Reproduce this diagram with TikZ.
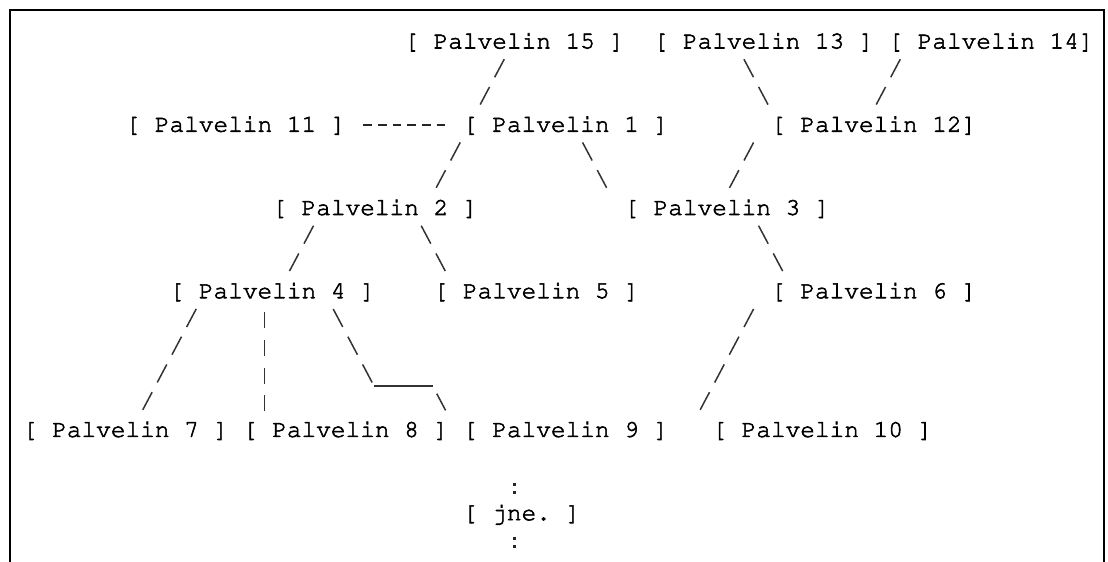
\documentclass[tikz,border=0pt]{standalone}
\usepackage[T1]{fontenc}

% Courier on a fixed character grid, slightly heavier strokes
\newcommand\heavy{\special{pdf:literal direct 2 Tr 0.55 w}}
\newcommand\plain{\special{pdf:literal direct 0 Tr}}

\tikzset{
  srv/.style={anchor=base west, inner sep=0pt, text height=14pt, text depth=0pt,
    font=\fontfamily{pcr}\fontsize{24.45}{27.75}\selectfont\frenchspacing, text=black,
    execute at begin node=\heavy, execute at end node=\plain},
  link/.style={line width=1.5pt, black!80, dash pattern=on 20.4pt off 11pt,
    shorten <=11.9pt, shorten >=14.7pt},
  vlink/.style={line width=1.5pt, black!80, dash pattern=on 16pt off 11.75pt,
    shorten <=13.75pt, shorten >=11.75pt},
  hlink/.style={line width=1.6pt, black!85, dash pattern=on 8.5pt off 6.17pt,
    shorten <=17.6pt, shorten >=17.6pt},
  colon/.style={line width=3pt, black!85, dash pattern=on 3pt off 5.5pt},
  outline/.style={line width=2pt, black}
}

\begin{document}
\begin{tikzpicture}[x=14.67pt, y=-27.75pt]
\useasboundingbox (-2.045,-1.748) rectangle (73.49,18.505);
\draw[outline] (-1.363,18.505) |- (73.21,-1.387) -- (73.21,18.505);

% servers on the character grid (column, row)
\node[srv] (p15) at (25.5,0) {[ Palvelin 15 ]};
\node[srv] (p13) at (42.5,0) {[ Palvelin 13 ]};
\node[srv] (p14) at (58.5,0) {[ Palvelin 14]};
\node[srv] (p11) at (6.5,3) {[ Palvelin 11 ]};
\node[srv] (p1) at (29.5,3) {[ Palvelin 1 ]};
\node[srv] (p12) at (50.5,3) {[ Palvelin 12]};
\node[srv] (p2) at (16.5,6) {[ Palvelin 2 ]};
\node[srv] (p3) at (40.5,6) {[ Palvelin 3 ]};
\node[srv] (p4) at (9.5,9) {[ Palvelin 4 ]};
\node[srv] (p5) at (27.5,9) {[ Palvelin 5 ]};
\node[srv] (p6) at (50.5,9) {[ Palvelin 6 ]};
\node[srv] (p7) at (-0.5,14) {[ Palvelin 7 ]};
\node[srv] (p8) at (14.5,14) {[ Palvelin 8 ]};
\node[srv] (p9) at (29.5,14) {[ Palvelin 9 ]};
\node[srv] (p10) at (46.5,14) {[ Palvelin 10 ]};
\node[srv] (jne) at (29.5,17) {[ jne. ]};

% slashes, one column per row
\draw[link] (p15.south -| 32.71,0) -- (p1.north -| 30.22,0);
\draw[link] (p13.south -| 48.29,0) -- (p12.north -| 50.78,0);
\draw[link] (p14.south -| 59.71,0) -- (p12.north -| 57.22,0);
\draw[link] (p1.south -| 29.71,0) -- (p2.north -| 27.22,0);
\draw[link] (p1.south -| 37.29,0) -- (p3.north -| 39.78,0);
\draw[link] (p12.south -| 49.71,0) -- (p3.north -| 47.22,0);
\draw[link] (p2.south -| 19.71,0) -- (p4.north -| 17.22,0);
\draw[link] (p2.south -| 26.29,0) -- (p5.north -| 28.78,0);
\draw[link] (p3.south -| 49.29,0) -- (p6.north -| 51.78,0);
\draw[link] (p4.south -| 11.71,0) -- (p7.north -| 7.22,0);
\draw[link] (p6.south -| 49.71,0) -- (p10.north -| 45.22,0);
\draw[vlink] (p4.south -| 16,0) -- (p8.north -| 16,0);
\draw[hlink] (p11.east) -- (p1.west);

% 4 -> 9 with the underscore step
\coordinate (u1) at (23.45,12.16);
\coordinate (u2) at (27.45,12.16);
\draw[link, shorten >=0pt] (p4.south -| 20.29,0) -- (u1);
\draw[line width=1.5pt, black!80] (u1) -- (u2);
\draw[link, shorten <=8.8pt, shorten >=14pt] (u2) -- (p9.north -| 28.78,0);

% and so on
\coordinate (more) at (33,18.05);
\draw[colon, shorten <=45.5pt, shorten >=12pt] (p9.south -| 33,0) -- (jne.north -| 33,0);
\draw[colon, shorten <=16.3pt] (jne.south -| 33,0) -- (more);
\end{tikzpicture}
\end{document}
